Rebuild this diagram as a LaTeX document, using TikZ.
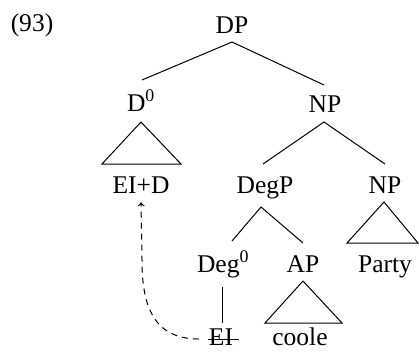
\documentclass[tikz,border=0pt]{standalone}
\usepackage{fontspec}
\setmainfont{Liberation Serif}
\usetikzlibrary{calc,arrows.meta}
\begin{document}
\begin{tikzpicture}[x=1pt,y=-1pt,
  lbl/.style={inner sep=0pt,anchor=base,font=\fontsize{25.5}{30}\selectfont},
  branch/.style={line width=1pt},
  move/.style={line width=1pt,dash pattern=on 6pt off 5pt,-{To[length=4pt,width=7pt]}}]
\useasboundingbox (0,0) rectangle (419,351);

% example number
\node[lbl] (ex) at (32,31) {(93)};

% labels
\node[lbl] (dp)    at (232,33)  {DP};
\node[lbl] (d0)    at (141,111) {D\textsuperscript{0}};
\node[lbl] (np)    at (325,112) {NP};
\node[lbl] (eid)   at (141,193) {EI+D};
\node[lbl] (degp)  at (265,193) {DegP};
\node[lbl] (np2)   at (385,193) {NP};
\node[lbl] (deg0)  at (223,272) {Deg\textsuperscript{0}};
\node[lbl] (ap)    at (303,272) {AP};
\node[lbl] (party) at (385,272) {Party};
\node[lbl] (ei)    at (221,345) {EI};
\node[lbl] (coole) at (300,345) {coole};

% branch end points
\coordinate (dpB)   at (232,42);
\coordinate (d0T)   at (142,80);
\coordinate (npT)   at (324,85);
\coordinate (npB)   at (324,122);
\coordinate (degpT) at (263,164);
\coordinate (np2T)  at (385,164);
\coordinate (degpB) at (261,207);
\coordinate (deg0T) at (232,241);
\coordinate (apT)   at (303,243);
\coordinate (deg0B) at (222,287);
\coordinate (eiT)   at (222,323);

% branches
\draw[branch] (d0T) -- (dpB) -- (npT);
\draw[branch] (degpT) -- (npB) -- (np2T);
\draw[branch] (deg0T) -- (degpB) -- (apT);
\draw[branch] (deg0B) -- (eiT);

% triangles
\draw[branch] (141,122) -- (102,164) -- (181,164) -- cycle;
\draw[branch] (384,202) -- (347,243) -- (418,243) -- cycle;
\draw[branch] (303,281) -- (265,323) -- (342,323) -- cycle;

% deleted copy
\draw[line width=1pt] ($(ei.base west)+(-1,-6)$) -- ($(ei.base east)+(6,-6)$);

% head movement
\coordinate (mvStart) at ($(ei.base west)+(-10,-6)$);
\coordinate (mvEnd) at ([yshift=-9pt]eid.south);
\draw[move] (mvStart) .. controls (150,339) and (142,300) .. (142,260) -- (mvEnd);
\end{tikzpicture}
\end{document}
